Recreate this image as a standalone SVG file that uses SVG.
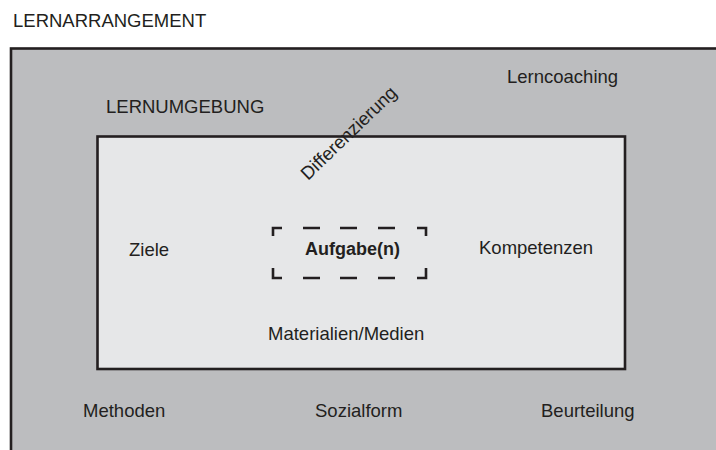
<svg xmlns="http://www.w3.org/2000/svg" width="716" height="450" viewBox="0 0 716 450">
<style>
text{font-family:"Liberation Sans",Arial,sans-serif;font-size:18.5px;fill:#231f20}
.b{font-weight:bold;font-size:18px}
.frame{stroke:#231f20;stroke-width:2.6}
.dash{fill:none;stroke:#231f20;stroke-width:2.6}
</style>
<rect width="716" height="450" fill="#ffffff"/>
<text x="13" y="27">LERNARRANGEMENT</text>
<g id="lernarrangement">
<rect class="frame" x="11" y="48.5" width="720" height="420" fill="#bcbdbf"/>
<text x="106" y="113">LERNUMGEBUNG</text>
<text x="507" y="83">Lerncoaching</text>
<text x="83" y="417">Methoden</text>
<text x="315" y="417">Sozialform</text>
<text x="541" y="417">Beurteilung</text>
</g>
<g id="lernumgebung">
<rect class="frame" x="97.5" y="136.5" width="527.5" height="232.5" fill="#e6e7e8"/>
<text x="129" y="256">Ziele</text>
<text x="479" y="254">Kompetenzen</text>
<text x="268" y="340">Materialien/Medien</text>
</g>
<g id="aufgabe">
<path class="dash" d="M273,236V228H282M303,228H320M340,228H357M378,228H395M417,228H426V236M273,268V278H282M303,278H320M340,278H357M378,278H395M417,278H426V268"/>
<text class="b" x="305" y="255">Aufgabe(n)</text>
</g>
<g id="connectors"></g>
<text x="0" y="0" transform="translate(308,181) rotate(-44)">Differenzierung</text>
</svg>
